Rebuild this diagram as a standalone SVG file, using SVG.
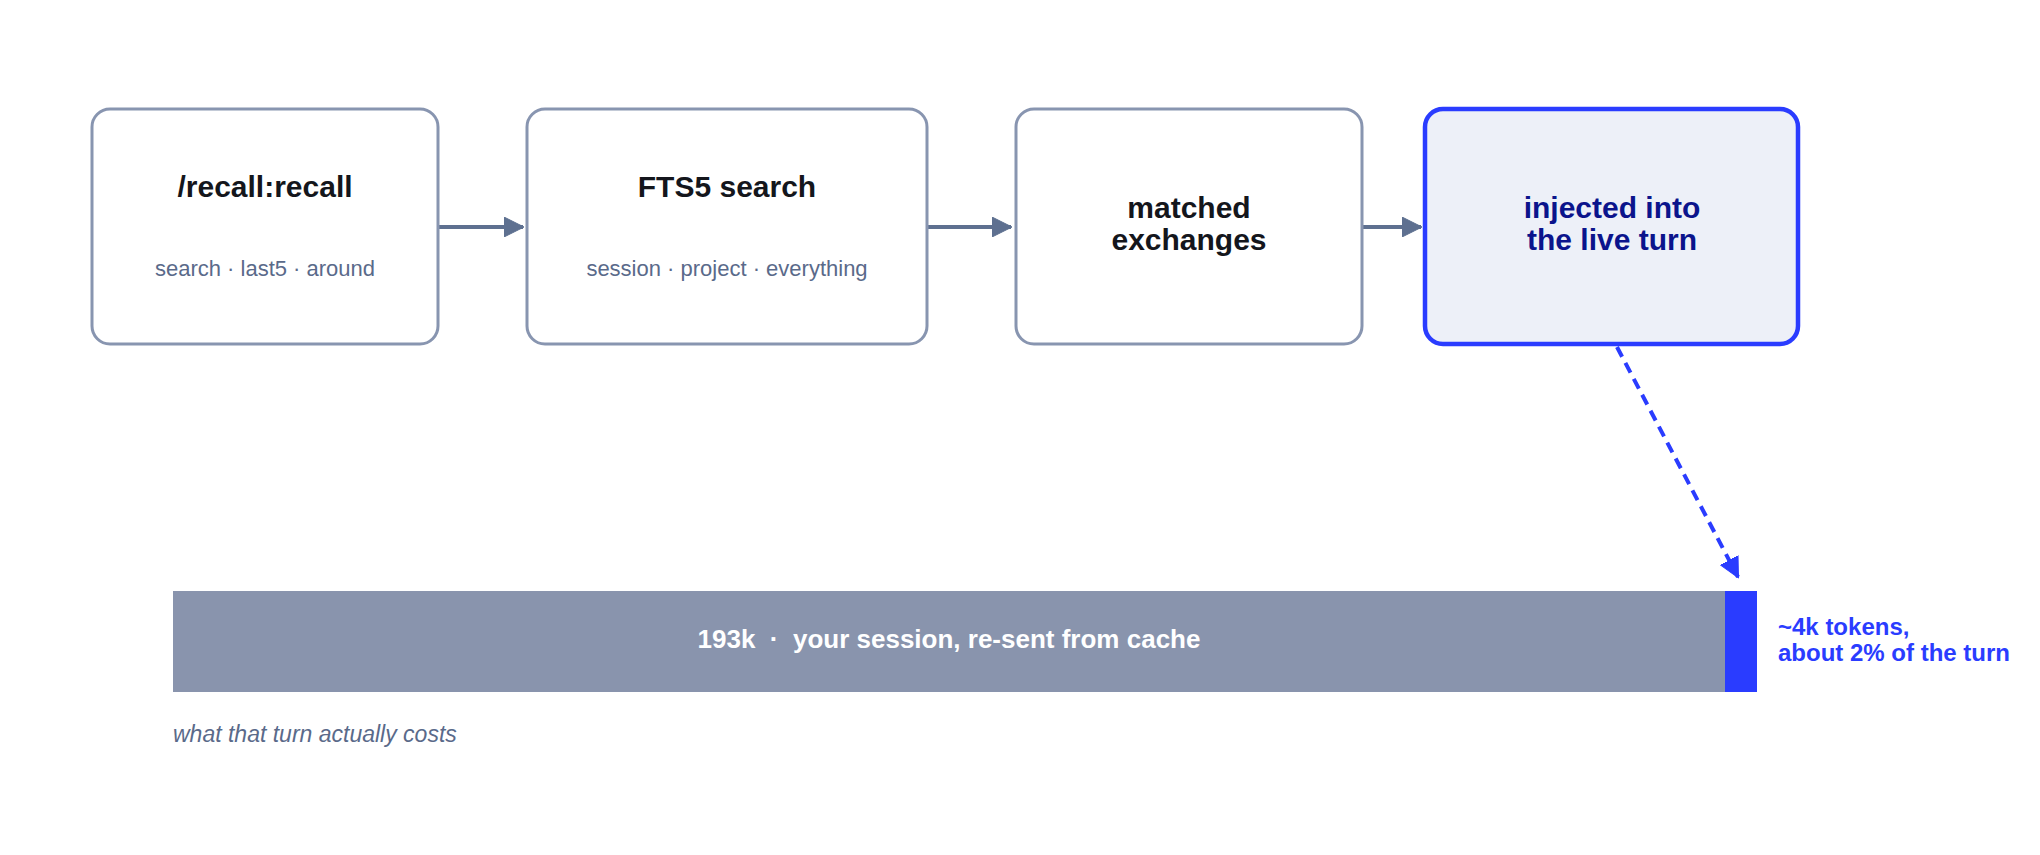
<svg xmlns="http://www.w3.org/2000/svg" width="2040" height="855" viewBox="0 0 2040 855">
<style>
text{font-family:"Liberation Sans",Arial,sans-serif}
.box{fill:#ffffff;stroke:#8895b0;stroke-width:3}
.hot{fill:#edf0f8;stroke:#2a3cff;stroke-width:4.5}
.title{font-size:30px;font-weight:bold;fill:#14161c;text-anchor:middle}
.htitle{font-size:30px;font-weight:bold;fill:#0b148c;text-anchor:middle}
.sub{font-size:22px;fill:#5a6a8a;text-anchor:middle}
.flow{stroke:#5e7090;stroke-width:4;fill:none}
.dash{stroke:#2a3cff;stroke-width:4;fill:none;stroke-dasharray:11 7}
.note{font-size:24px;font-weight:bold;fill:#2a3cff}
.barlabel{font-size:26px;font-weight:bold;fill:#ffffff;text-anchor:middle}
.cap{font-size:23px;font-style:italic;fill:#5a6a8a}
</style>
<defs>
<marker id="ah" markerUnits="userSpaceOnUse" markerWidth="20" markerHeight="20" refX="19" refY="10" orient="auto">
<path d="M0,0 L20,10 L0,20 z" fill="#5e7090" stroke="#5e7090" stroke-width="1" stroke-linejoin="round"/>
</marker>
<marker id="ahb" markerUnits="userSpaceOnUse" markerWidth="22" markerHeight="22" refX="19" refY="11" orient="auto">
<path d="M0,1 L20,11 L0,21 z" fill="#2a3cff" stroke="#2a3cff" stroke-width="1" stroke-linejoin="round"/>
</marker>
</defs>

<g id="connectors">
<line class="flow" x1="439" y1="227" x2="523" y2="227" marker-end="url(#ah)"/>
<line class="flow" x1="928" y1="227" x2="1011" y2="227" marker-end="url(#ah)"/>
<line class="flow" x1="1363" y1="227" x2="1421" y2="227" marker-end="url(#ah)"/>
<line class="dash" x1="1617" y1="347" x2="1738" y2="577" marker-end="url(#ahb)"/>
</g>

<g id="node-recall">
<rect class="box" x="92" y="109" width="346" height="235" rx="18"/>
<text class="title" x="265" y="197">/recall:recall</text>
<text class="sub" x="265" y="276">search · last5 · around</text>
</g>

<g id="node-fts5">
<rect class="box" x="527" y="109" width="400" height="235" rx="18"/>
<text class="title" x="727" y="197">FTS5 search</text>
<text class="sub" x="727" y="276">session · project · everything</text>
</g>

<g id="node-matched">
<rect class="box" x="1016" y="109" width="346" height="235" rx="18"/>
<text class="title" x="1189" y="218">matched</text>
<text class="title" x="1189" y="250">exchanges</text>
</g>

<g id="node-injected">
<rect class="hot" x="1425" y="109" width="373" height="235" rx="18"/>
<text class="htitle" x="1612" y="218">injected into</text>
<text class="htitle" x="1612" y="250">the live turn</text>
</g>

<g id="bar">
<rect x="173" y="591" width="1552" height="101" fill="#8994ad"/>
<rect x="1725" y="591" width="32" height="101" fill="#2a3cff"/>
<text class="barlabel" x="949" y="648" xml:space="preserve">193k  ·  your session, re-sent from cache</text>
</g>

<g id="bar-note">
<text class="note" x="1778" y="635">~4k tokens,</text>
<text class="note" x="1778" y="661">about 2% of the turn</text>
</g>

<text class="cap" x="173" y="742">what that turn actually costs</text>
</svg>
